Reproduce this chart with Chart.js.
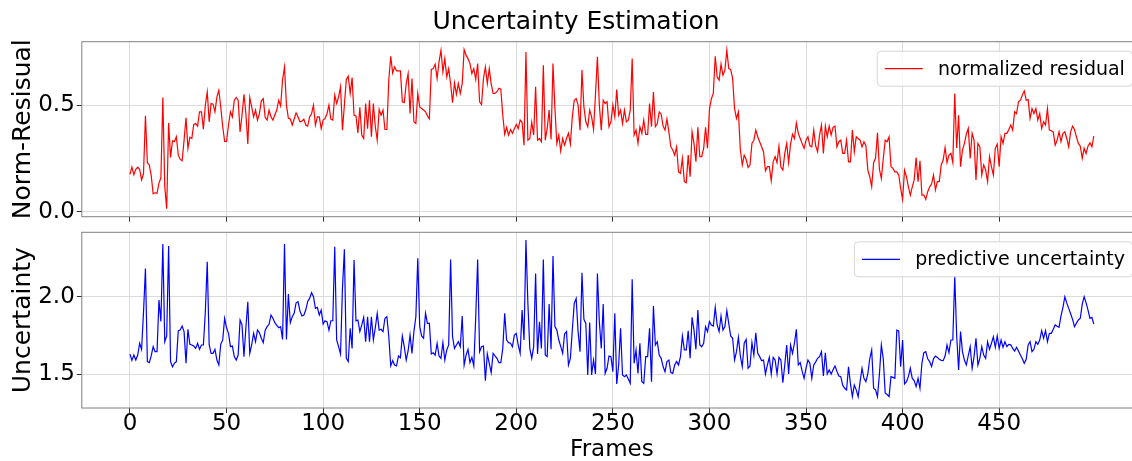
<!DOCTYPE html>
<html>
<head>
<meta charset="utf-8">
<script src="https://cdn.jsdelivr.net/npm/chart.js@4.4.0/dist/chart.umd.min.js"></script>
<style>
    html, body { margin: 0; padding: 0; background: #fff; overflow: hidden; width: 1132px; height: 461px; }
    #wrap { position: relative; width: 1132px; height: 461px; overflow: hidden; }
    canvas { position: absolute; left: 0; }
    #residualChart { top: 0; }
    #uncertaintyChart { top: 225px; }
</style>
</head>
<body>
<div id="wrap">
    <canvas id="residualChart" width="1150" height="225"></canvas>
    <canvas id="uncertaintyChart" width="1150" height="245"></canvas>
</div>
<script>
// values, one per frame (0..499)
const residual = [
    0.176, 0.21, 0.175, 0.20, 0.21, 0.20, 0.15, 0.18, 0.45, 0.23,
    0.22, 0.17, 0.085, 0.09, 0.088, 0.135, 0.16, 0.536, 0.12, 0.015,
    0.417, 0.255, 0.333, 0.33, 0.352, 0.266, 0.246, 0.24, 0.336, 0.441,
    0.298, 0.35, 0.344, 0.41, 0.414, 0.402, 0.469, 0.469, 0.388, 0.5,
    0.562, 0.422, 0.508, 0.505, 0.469, 0.539, 0.57, 0.49, 0.4, 0.33,
    0.33, 0.407, 0.469, 0.445, 0.523, 0.536, 0.523, 0.375, 0.453, 0.551,
    0.461, 0.318, 0.536, 0.492, 0.445, 0.477, 0.43, 0.46, 0.52, 0.53,
    0.442, 0.43, 0.477, 0.445, 0.43, 0.455, 0.477, 0.523, 0.496, 0.62,
    0.679, 0.5, 0.438, 0.435, 0.407, 0.435, 0.464, 0.445, 0.422, 0.425,
    0.435, 0.407, 0.402, 0.445, 0.46, 0.5, 0.407, 0.445, 0.445, 0.39,
    0.43, 0.438, 0.46, 0.5, 0.435, 0.43, 0.547, 0.508, 0.539, 0.586,
    0.383, 0.5, 0.62, 0.636, 0.555, 0.629, 0.453, 0.45, 0.37, 0.49,
    0.36, 0.344, 0.508, 0.39, 0.523, 0.352, 0.508, 0.4, 0.336, 0.48,
    0.453, 0.477, 0.386, 0.386, 0.62, 0.729, 0.65, 0.679, 0.66, 0.66,
    0.66, 0.516, 0.512, 0.6, 0.648, 0.461, 0.625, 0.422, 0.414, 0.555,
    0.492, 0.484, 0.477, 0.469, 0.45, 0.436, 0.667, 0.671, 0.692, 0.625,
    0.703, 0.757, 0.656, 0.718, 0.632, 0.671, 0.6, 0.511, 0.604, 0.551,
    0.601, 0.555, 0.601, 0.76, 0.734, 0.718, 0.695, 0.648, 0.671, 0.62,
    0.695, 0.516, 0.503, 0.625, 0.679, 0.601, 0.671, 0.6, 0.555, 0.555,
    0.563, 0.579, 0.575, 0.453, 0.364, 0.396, 0.36, 0.386, 0.368, 0.39,
    0.41, 0.39, 0.43, 0.42, 0.313, 0.749, 0.336, 0.344, 0.42, 0.36,
    0.586, 0.336, 0.344, 0.329, 0.687, 0.336, 0.391, 0.477, 0.34, 0.695,
    0.484, 0.321, 0.36, 0.285, 0.344, 0.313, 0.344, 0.368, 0.318, 0.445,
    0.523, 0.531, 0.5, 0.383, 0.664, 0.492, 0.422, 0.399, 0.477, 0.445,
    0.386, 0.55, 0.726, 0.5, 0.383, 0.523, 0.508, 0.516, 0.399, 0.422,
    0.5, 0.445, 0.573, 0.453, 0.477, 0.414, 0.477, 0.422, 0.43, 0.477,
    0.718, 0.36, 0.383, 0.321, 0.399, 0.368, 0.43, 0.363, 0.363, 0.508,
    0.399, 0.562, 0.4, 0.414, 0.469, 0.458, 0.402, 0.383, 0.435, 0.375,
    0.305, 0.29, 0.266, 0.305, 0.188, 0.181, 0.251, 0.142, 0.137, 0.266,
    0.165, 0.375, 0.32, 0.235, 0.396, 0.259, 0.259, 0.298, 0.396, 0.298,
    0.48, 0.53, 0.555, 0.729, 0.632, 0.617, 0.692, 0.64, 0.664, 0.757,
    0.671, 0.667, 0.625, 0.484, 0.438, 0.469, 0.29, 0.22, 0.266, 0.246,
    0.209, 0.22, 0.321, 0.336, 0.383, 0.352, 0.329, 0.305, 0.282, 0.193,
    0.212, 0.212, 0.146, 0.235, 0.259, 0.231, 0.308, 0.21, 0.196, 0.274,
    0.321, 0.231, 0.318, 0.364, 0.344, 0.417, 0.368, 0.344, 0.32, 0.298,
    0.336, 0.352, 0.31, 0.305, 0.383, 0.31, 0.282, 0.36, 0.407, 0.274,
    0.402, 0.352, 0.402, 0.36, 0.396, 0.402, 0.305, 0.329, 0.336, 0.274,
    0.274, 0.336, 0.235, 0.235, 0.383, 0.282, 0.352, 0.344, 0.336, 0.305,
    0.329, 0.31, 0.196, 0.165, 0.118, 0.231, 0.251, 0.371, 0.2, 0.157,
    0.25, 0.336, 0.329, 0.352, 0.212, 0.204, 0.188, 0.188, 0.173, 0.111,
    0.059, 0.196, 0.165, 0.118, 0.079, 0.118, 0.15, 0.255, 0.142, 0.24,
    0.079, 0.079, 0.059, 0.095, 0.118, 0.131, 0.173, 0.103, 0.142, 0.142,
    0.22, 0.243, 0.302, 0.231, 0.266, 0.274, 0.231, 0.555, 0.30, 0.453,
    0.212, 0.29, 0.321, 0.364, 0.391, 0.251, 0.368, 0.336, 0.15, 0.321,
    0.305, 0.173, 0.22, 0.196, 0.142, 0.259, 0.212, 0.173, 0.298, 0.318,
    0.212, 0.352, 0.321, 0.368, 0.368, 0.386, 0.407, 0.383, 0.469, 0.461,
    0.516, 0.523, 0.547, 0.567, 0.523, 0.526, 0.438, 0.484, 0.461, 0.484,
    0.43, 0.461, 0.391, 0.422, 0.407, 0.484, 0.383, 0.38, 0.375, 0.313,
    0.336, 0.375, 0.329, 0.368, 0.375, 0.344, 0.305, 0.375, 0.402, 0.386,
    0.352, 0.321, 0.308, 0.251, 0.298, 0.274, 0.308, 0.324, 0.305, 0.355
];

const uncertainty = [
    1.63, 1.59, 1.624, 1.592, 1.624, 1.70, 1.66, 1.90, 2.182, 1.582,
    1.575, 1.62, 1.678, 1.646, 1.646, 1.979, 1.84, 2.339, 1.71, 1.747,
    2.326, 1.582, 1.549, 1.571, 1.582, 1.781, 1.785, 1.811, 1.775, 1.571,
    1.79, 1.693, 1.689, 1.682, 1.667, 1.70, 1.661, 1.689, 1.689, 1.90,
    2.225, 1.689, 1.635, 1.635, 1.661, 1.592, 1.56, 1.695, 1.721, 1.861,
    1.80, 1.764, 1.678, 1.682, 1.614, 1.592, 1.624, 1.85, 1.818, 1.614,
    1.80, 1.968, 1.635, 1.689, 1.764, 1.71, 1.785, 1.768, 1.732, 1.704,
    1.785, 1.807, 1.822, 1.882, 1.861, 1.833, 1.815, 1.80, 1.807, 1.725,
    2.339, 1.725, 2.017, 1.833, 1.871, 1.893, 1.961, 1.968, 1.908, 1.876,
    1.882, 1.914, 1.97, 1.989, 2.026, 2.0, 1.925, 1.931, 1.882, 1.914,
    1.824, 1.845, 1.839, 1.785, 1.845, 1.845, 2.322, 1.721, 1.678, 1.631,
    2.054, 2.305, 1.603, 1.582, 1.796, 1.667, 2.236, 1.845, 1.85, 1.775,
    1.818, 1.867, 1.71, 1.871, 1.71, 1.871, 1.721, 1.80, 1.893, 1.785,
    1.79, 1.775, 1.861, 1.871, 1.742, 1.554, 1.588, 1.56, 1.554, 1.618,
    1.607, 1.747, 1.678, 1.592, 1.652, 1.753, 1.635, 1.775, 1.871, 2.247,
    1.807, 1.747, 1.732, 1.893, 1.828, 1.828, 1.631, 1.639, 1.624, 1.70,
    1.618, 1.603, 1.704, 1.592, 1.657, 1.689, 2.24, 1.742, 1.667, 1.689,
    1.71, 1.678, 1.876, 1.56, 1.624, 1.661, 1.575, 1.609, 1.554, 1.871,
    2.24, 1.646, 1.678, 1.682, 1.459, 1.631, 1.57, 1.511, 1.635, 1.618,
    1.603, 1.575, 1.575, 1.667, 1.893, 1.721, 1.704, 1.70, 1.678, 1.753,
    1.764, 1.689, 1.635, 1.914, 1.721, 2.365, 1.957, 1.667, 1.603, 1.678,
    2.15, 1.631, 1.839, 1.667, 2.24, 1.624, 1.614, 1.953, 1.661, 2.262,
    1.807, 1.785, 1.721, 1.68, 1.635, 1.76, 1.775, 1.56, 1.603, 1.785,
    1.957, 1.989, 1.775, 1.646, 2.155, 1.854, 1.828, 1.496, 1.833, 1.496,
    1.592, 1.502, 2.15, 1.839, 1.667, 1.953, 1.506, 1.539, 1.618, 1.614,
    1.517, 1.893, 1.438, 1.56, 1.796, 1.496, 1.485, 1.496, 1.47, 1.442,
    2.112, 1.571, 1.657, 1.506, 1.70, 1.453, 1.442, 1.614, 1.614, 1.796,
    1.453, 1.94, 1.689, 1.71, 1.624, 1.603, 1.55, 1.517, 1.582, 1.592,
    1.511, 1.506, 1.56, 1.582, 1.56, 1.614, 1.747, 1.657, 1.657, 1.781,
    1.603, 1.867, 1.785, 1.661, 1.914, 1.689, 1.678, 1.70, 1.807, 1.775,
    1.84, 1.818, 1.811, 1.931, 1.818, 1.775, 1.876, 1.785, 1.807, 1.91,
    1.828, 1.747, 1.732, 1.592, 1.646, 1.738, 1.618, 1.549, 1.70, 1.725,
    1.539, 1.554, 1.704, 1.624, 1.768, 1.635, 1.614, 1.588, 1.592, 1.502,
    1.56, 1.609, 1.502, 1.609, 1.592, 1.502, 1.609, 1.592, 1.446, 1.56,
    1.689, 1.502, 1.689, 1.635, 1.70, 1.79, 1.56, 1.575, 1.52, 1.474,
    1.54, 1.592, 1.571, 1.474, 1.56, 1.58, 1.603, 1.614, 1.646, 1.489,
    1.639, 1.502, 1.528, 1.502, 1.53, 1.554, 1.52, 1.489, 1.485, 1.43,
    1.41, 1.399, 1.549, 1.44, 1.356, 1.431, 1.40, 1.356, 1.453, 1.539,
    1.474, 1.453, 1.502, 1.60, 1.657, 1.41, 1.40, 1.356, 1.50, 1.689,
    1.60, 1.378, 1.37, 1.356, 1.485, 1.48, 1.474, 1.785, 1.78, 1.549,
    1.721, 1.438, 1.453, 1.485, 1.539, 1.474, 1.46, 1.421, 1.474, 1.41,
    1.571, 1.639, 1.646, 1.60, 1.582, 1.55, 1.60, 1.618, 1.609, 1.597,
    1.59, 1.588, 1.618, 1.689, 1.639, 1.721, 1.721, 2.133, 1.75, 1.528,
    1.775, 1.646, 1.592, 1.56, 1.62, 1.678, 1.539, 1.614, 1.732, 1.56,
    1.603, 1.678, 1.624, 1.603, 1.71, 1.661, 1.70, 1.742, 1.674, 1.747,
    1.667, 1.721, 1.674, 1.71, 1.678, 1.693, 1.69, 1.667, 1.65, 1.674,
    1.65, 1.624, 1.60, 1.571, 1.597, 1.689, 1.71, 1.646, 1.661, 1.71,
    1.693, 1.721, 1.781, 1.732, 1.781, 1.71, 1.764, 1.764, 1.79, 1.818,
    1.81, 1.803, 1.876, 1.93, 2.0, 1.96, 1.925, 1.89, 1.854, 1.807,
    1.83, 1.85, 1.861, 1.95, 2.0, 1.96, 1.914, 1.861, 1.867, 1.824
];

const frames = residual.map(function (_, i) { return i; });
const frameTicks = [0, 50, 100, 150, 200, 250, 300, 350, 400, 450];
const residualTicks = [0.0, 0.5];
const uncertaintyTicks = [1.5, 2.0];

const FONT = "'DejaVu Sans', 'Liberation Sans', sans-serif";
const GRID = '#dcdcdc';

function toPoints(values) {
    return values.map(function (v, i) { return { x: frames[i], y: v }; });
}

// frame around the axes + matplotlib-style legend box (+ figure title)
const decorPlugin = {
    id: 'decor',
    afterDraw: function (chart, args, opts) {
        const ctx = chart.ctx;
        const a = chart.chartArea;
        ctx.save();
        ctx.strokeStyle = '#808080';
        ctx.lineWidth = 1;
        ctx.strokeRect(a.left, a.top, a.right - a.left, a.bottom - a.top);

        const ds = chart.data.datasets[0];
        const fs = 19;
        ctx.font = fs + 'px ' + FONT;
        const tw = ctx.measureText(ds.label).width;
        const w = 7.6 + 38 + 15.2 + tw + 7.6;
        const h = 35;
        const x = a.right - 9.5 - w;
        const y = a.top + 9.5;
        ctx.beginPath();
        ctx.roundRect(x, y, w, h, 4);
        ctx.fillStyle = 'rgba(255,255,255,0.8)';
        ctx.fill();
        ctx.strokeStyle = '#d6d6d6';
        ctx.stroke();
        ctx.beginPath();
        ctx.moveTo(x + 7.6, y + h / 2);
        ctx.lineTo(x + 7.6 + 38, y + h / 2);
        ctx.strokeStyle = ds.borderColor;
        ctx.lineWidth = 1.2;
        ctx.stroke();
        ctx.fillStyle = '#000';
        ctx.textBaseline = 'middle';
        ctx.fillText(ds.label, x + 7.6 + 38 + 15.2, y + h / 2 + 1);

        if (opts && opts.title) {
            ctx.font = '25px ' + FONT;
            ctx.textAlign = 'center';
            ctx.fillText(opts.title, 576, 22);
        }
        ctx.restore();
    }
};

function buildChart(canvasId, cfg) {
    return new Chart(document.getElementById(canvasId), {
        type: 'line',
        data: {
            datasets: [{
                label: cfg.label,
                data: toPoints(cfg.values),
                borderColor: cfg.color,
                borderWidth: 1.2,
                pointRadius: 0,
                tension: 0
            }]
        },
        options: {
            responsive: false,
            animation: false,
            devicePixelRatio: 1,
            layout: { padding: { top: cfg.padTop, left: 0, right: 8, bottom: 0 } },
            scales: {
                x: {
                    type: 'linear',
                    min: -24.95,
                    max: 523.95,
                    afterBuildTicks: function (scale) {
                        scale.ticks = frameTicks.map(function (v) { return { value: v }; });
                    },
                    afterFit: function (scale) {
                        scale.height = cfg.xHeight;
                        scale.paddingLeft = 0;
                        scale.paddingRight = 0;
                    },
                    grid: { color: GRID, lineWidth: 1, tickColor: '#333', tickLength: 5 },
                    border: { display: false },
                    ticks: {
                        display: cfg.showX,
                        maxRotation: 0,
                        padding: 0,
                        color: '#000',
                        font: { family: FONT, size: 23, lineHeight: 1 },
                        callback: function (v) { return String(v); }
                    },
                    title: {
                        display: cfg.showX,
                        text: 'Frames',
                        color: '#000',
                        font: { family: FONT, size: 23, lineHeight: 1 },
                        padding: { top: 0, bottom: 8.5 }
                    }
                },
                y: {
                    min: cfg.yMin,
                    max: cfg.yMax,
                    afterBuildTicks: function (scale) {
                        scale.ticks = cfg.yTicks.map(function (v) { return { value: v }; });
                    },
                    afterFit: function (scale) {
                        scale.width = 81.8;
                        scale.paddingTop = 0;
                        scale.paddingBottom = 0;
                    },
                    grid: { color: GRID, lineWidth: 1, tickColor: '#333', tickLength: 5 },
                    border: { display: false },
                    ticks: {
                        padding: 2,
                        color: '#000',
                        font: { family: FONT, size: 23 },
                        callback: function (v) { return v.toFixed(1); }
                    },
                    title: {
                        display: true,
                        text: cfg.yTitle,
                        color: '#000',
                        font: { family: FONT, size: 25, lineHeight: 1 },
                        padding: { top: 10.5, bottom: 0 }
                    }
                }
            },
            plugins: {
                legend: { display: false },
                tooltip: { enabled: false },
                decor: { title: cfg.title }
            }
        },
        plugins: [decorPlugin]
    });
}

buildChart('residualChart', {
    label: 'normalized residual',
    values: residual,
    color: 'red',
    yMin: -0.022,
    yMax: 0.797,
    yTicks: residualTicks,
    yTitle: 'Norm-Resisual',
    padTop: 41.7,
    xHeight: 8.3,
    showX: false,
    title: 'Uncertainty Estimation'
});

buildChart('uncertaintyChart', {
    label: 'predictive uncertainty',
    values: uncertainty,
    color: 'blue',
    yMin: 1.283,
    yMax: 2.415,
    yTicks: uncertaintyTicks,
    yTitle: 'Uncertainty',
    padTop: 7.3,
    xHeight: 62,
    showX: true,
    title: null
});
</script>
</body>
</html>
